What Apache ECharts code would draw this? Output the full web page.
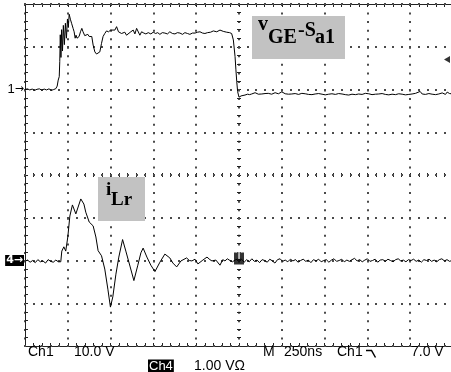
<!DOCTYPE html>
<html><head><meta charset="utf-8">
<script src="https://cdn.jsdelivr.net/npm/echarts@6/dist/echarts.min.js"></script>
<style>html,body{margin:0;padding:0;background:#fff;}#c{width:451px;height:372px;}</style>
</head><body><div id="c"></div>
<script>
// ---- data (time in ns, trigger at 0) ----
const ch1TimeNs = [-1250,-1236,-1222,-1208,-1194,-1180,-1166,-1152,-1138,-1124,-1110,-1096,-1082,-1070,-1062,-1056,-1050,-1047,-1044,-1040,-1036,-1031,-1026,-1020,-1014,-1008,-1002,-997,-992,-984,-978,-973,-969,-963,-957,-952,-946,-934,-926,-918,-911,-901,-891,-883,-875,-867,-860,-852,-842,-832,-823,-813,-803,-794,-784,-774,-762,-750,-739,-725,-715,-704,-686,-677,-667,-657,-647,-632,-618,-608,-598,-589,-579,-569,-556,-544,-530,-515,-501,-487,-475,-462,-448,-433,-418,-404,-389,-374,-360,-345,-330,-316,-301,-287,-272,-257,-242,-228,-213,-199,-184,-166,-150,-130,-111,-92,-72,-55,-43,-33,-23,-18,-13,-8,0,12,23,35,50,62,74,94,113,133,152,171,191,211,230,250,270,289,308,328,348,367,387,406,426,445,465,485,504,524,543,563,582,602,621,641,660,680,699,719,738,758,777,797,816,836,855,875,894,914,933,953,972,992,1011,1031,1058,1070,1089,1109,1128,1148,1167,1187,1206,1216,1230,1250];
const ch1Volt = [0.0,0.15,-0.1,0.1,-0.2,0.05,0.15,-0.15,0.1,-0.1,0.15,-0.2,0.0,0.2,0.8,2.2,3.0,6.5,12.8,7.5,14.0,9.0,15.0,10.5,15.5,12.0,16.5,14.5,17.6,16.3,15.5,15.9,14.3,13.5,12.0,12.7,12.0,12.4,13.5,14.3,13.5,12.6,12.4,12.9,12.4,12.0,12.4,10.4,8.8,8.3,8.2,8.8,10.8,12.4,13.1,13.7,13.5,13.9,13.5,13.9,14.7,13.5,13.1,13.1,13.4,12.7,13.1,13.5,13.9,13.0,14.3,14.7,12.7,13.5,13.2,13.0,13.3,13.0,13.4,13.1,13.3,12.9,13.3,13.2,13.0,13.5,13.1,13.0,13.3,13.2,12.9,13.3,13.1,12.9,13.2,13.2,13.4,13.5,13.2,13.1,13.3,13.4,13.7,13.5,13.9,13.6,13.4,13.3,13.1,11.6,7.7,4.6,1.8,-0.5,-1.8,-1.5,-1.3,-1.3,-1.1,-1.2,-1.05,-0.75,-1.1,-1.05,-0.95,-0.9,-1.1,-0.75,-1.0,-0.55,-1.0,-1.1,-1.05,-0.95,-1.15,-0.9,-1.0,-1.15,-1.2,-1.05,-0.95,-1.1,-1.25,-1.1,-1.0,-1.15,-0.95,-1.05,-1.2,-1.3,-1.1,-1.2,-1.05,-1.15,-0.9,-1.0,-1.2,-1.1,-1.05,-0.95,-1.15,-1.25,-1.1,-1.2,-1.0,-1.1,-1.25,-1.15,-1.05,-0.9,-0.45,-1.05,-1.15,-0.95,-1.1,-1.2,-1.05,-0.8,-1.15,-0.6,-0.95,-1.05];
const ch4TimeNs = [-1250,-1235,-1220,-1205,-1190,-1175,-1160,-1145,-1130,-1115,-1100,-1085,-1070,-1055,-1041,-1035,-1023,-1012,-1000,-988,-973,-953,-924,-906,-895,-875,-852,-836,-823,-803,-784,-766,-751,-737,-719,-702,-680,-661,-637,-614,-591,-573,-560,-538,-515,-491,-462,-433,-404,-386,-364,-339,-306,-290,-275,-257,-240,-211,-187,-170,-158,-135,-111,-95,-82,-68,-53,-38,-23,-10,0,15,30,45,60,75,90,105,120,135,150,165,180,195,210,225,240,255,270,285,300,315,330,345,360,375,390,405,420,435,450,465,480,495,510,525,540,555,570,585,600,615,630,645,660,675,690,705,720,735,750,765,780,795,810,825,840,855,870,885,900,915,930,945,960,975,990,1005,1020,1035,1050,1065,1080,1095,1110,1125,1140,1155,1170,1185,1200,1215,1230,1250];
const ch4Amp = [-0.02,0.01,-0.04,0.0,-0.05,0.02,-0.03,-0.01,-0.06,0.02,-0.02,-0.04,0.01,-0.03,-0.03,0.22,0.32,0.22,0.55,1.04,1.30,1.09,1.44,1.32,1.13,0.90,0.81,0.55,0.23,0.11,-0.20,-0.67,-1.09,-0.85,-0.32,0.08,0.49,0.22,-0.13,-0.47,-0.11,0.18,0.29,0.08,-0.11,-0.26,-0.04,0.15,0.06,-0.06,-0.15,-0.01,0.06,0.0,-0.01,0.03,-0.08,0.01,0.08,0.02,-0.01,0.01,-0.11,0.02,-0.01,0.04,0.0,-0.03,0.01,0.03,-0.01,0.03,-0.04,0.02,-0.03,0.04,-0.02,0.01,-0.05,0.02,0.0,-0.04,0.03,-0.01,-0.06,0.02,0.04,-0.02,0.01,-0.03,0.03,-0.01,0.02,-0.04,0.0,0.03,-0.02,0.01,-0.05,0.02,-0.01,0.03,-0.03,0.0,0.02,-0.04,0.01,0.04,-0.02,0.0,0.03,-0.03,0.01,-0.02,0.02,0.05,-0.01,0.02,-0.03,0.01,0.04,-0.02,0.0,0.03,-0.04,0.01,0.02,-0.02,0.03,0.0,-0.03,0.02,0.04,-0.01,0.01,-0.03,0.02,0.0,0.03,-0.02,0.01,-0.04,0.02,0.0,0.03,-0.02,0.01,-0.03,0.02,0.04,-0.01,0.02,-0.02,0.01];

const timeMinNs = -1250, timeMaxNs = 1250, timePerDivNs = 250;
const divMin = -4, divMax = 4;
const minorPerDiv = 5;
const ch1VoltsPerDiv = 10, ch1Position = 2;
const ch4VoltsPerDiv = 1, ch4Position = -2;
const triggerLevelV = 7.0;

const ch1Data = ch1TimeNs.map((t, i) => [t, ch1Position + ch1Volt[i] / ch1VoltsPerDiv]);
const ch4Data = ch4TimeNs.map((t, i) => [t, ch4Position + ch4Amp[i] / ch4VoltsPerDiv]);

// horizontal graticule lines, one item per division level: [time, div]
const hLines = [];
for (let k = 0; k <= divMax - divMin; k++) hLines.push([0, divMin + k]);

const frameColor = '#222';
const dotColor = '#4a4a4a';
const dotSize = 2;
const minorPx = 342 / ((divMax - divMin) * minorPerDiv); // vertical spacing of graticule dots

function crisp(p) { // same rounding ECharts applies to 1px axis lines (left/top pixel)
  const d = Math.round(p * 2);
  return ((d + 1) % 2 === 0 ? d / 2 : (d - 1) / 2) - 0.5;
}

function renderHLine(params, api) {
  const dv = api.value(1);
  const y = crisp(api.coord([0, dv])[1]);
  const n = (timeMaxNs - timeMinNs) / timePerDivNs * minorPerDiv;
  const children = [];
  for (let k = 0; k <= n; k++) {
    const x = crisp(api.coord([timeMinNs + k * timePerDivNs / minorPerDiv, 0])[0]);
    children.push({ type: 'rect', shape: { x: x, y: y, width: dotSize, height: dotSize }, style: { fill: dotColor } });
  }
  return { type: 'group', children: children };
}

function xAxisDef(position, inside, onZero, len, split) {
  return {
    type: 'value', min: timeMinNs, max: timeMaxNs, interval: timePerDivNs, position: position,
    axisLine: { show: !onZero, onZero: onZero, onZeroAxisIndex: 0, lineStyle: { color: frameColor, width: 1 } },
    axisTick: { show: true, inside: inside, length: len, lineStyle: { color: frameColor } },
    minorTick: { show: true, splitNumber: minorPerDiv, length: len, lineStyle: { color: frameColor } },
    axisLabel: { show: false },
    splitLine: split ? { show: true, lineStyle: { color: dotColor, width: 2, type: [2, minorPx - 2] } } : { show: false },
    minorSplitLine: { show: false }
  };
}
function yAxisDef(position, inside, onZero, len, labels) {
  return {
    type: 'value', min: divMin, max: divMax, interval: 1, position: position,
    axisLine: { show: !onZero, onZero: onZero, onZeroAxisIndex: 0, lineStyle: { color: frameColor, width: 1 } },
    axisTick: { show: true, inside: inside, length: len, lineStyle: { color: frameColor } },
    minorTick: { show: true, splitNumber: minorPerDiv, length: len, lineStyle: { color: frameColor } },
    axisLabel: labels ? {
      show: true, margin: 1,
      formatter: function (v) {
        if (v === ch1Position) return '{n|1}{a|→}';
        if (v === ch4Position) return '{k|4→}';
        return '';
      },
      rich: {
        n: { fontFamily: 'Liberation Sans', fontSize: 13, color: '#000' },
        a: { fontFamily: 'DejaVu Sans', fontSize: 11, color: '#000' },
        k: { fontFamily: 'DejaVu Sans', fontSize: 11, fontWeight: 'bold', color: '#fff', backgroundColor: '#000', padding: [0, 1, 0, 1], lineHeight: 11 }
      }
    } : { show: false },
    splitLine: { show: false }, minorSplitLine: { show: false }
  };
}

const serifB = 'bold 20px "Liberation Serif"';
const sans14 = '14px "Liberation Sans"';
function txt(x, y, text, font, extra) {
  return Object.assign({ type: 'text', x: x, y: y, z: 100,
    style: Object.assign({ text: text, font: font, fill: '#000', align: 'left', verticalAlign: 'middle' }, extra || {}) });
}

const chart = echarts.init(document.getElementById('c'), null, { renderer: 'canvas' });
chart.setOption({
  animation: false,
  backgroundColor: '#fff',
  grid: { left: 25, top: 4, width: 428, height: 342, containLabel: false, outerBoundsMode: 'none' },
  xAxis: [
    xAxisDef('bottom', true, false, 3, true),
    xAxisDef('top', true, false, 3, false),
    xAxisDef('bottom', false, true, 2, false),
    xAxisDef('bottom', true, true, 2, false)
  ],
  yAxis: [
    yAxisDef('left', true, false, 3, true),
    yAxisDef('left', false, true, 2, false),
    yAxisDef('left', true, true, 2, false)
  ],
  series: [
    { type: 'custom', name: 'graticule', data: hLines, xAxisIndex: 0, yAxisIndex: 0, renderItem: renderHLine,
      silent: true, z: 1, clip: false },
    { type: 'line', name: 'Ch1', data: ch1Data, xAxisIndex: 0, yAxisIndex: 0, showSymbol: false, symbol: 'none',
      lineStyle: { color: '#000', width: 1 }, z: 5 },
    { type: 'line', name: 'Ch4', data: ch4Data, xAxisIndex: 0, yAxisIndex: 0, showSymbol: false, symbol: 'none',
      lineStyle: { color: '#000', width: 1 }, z: 5 },
    { type: 'scatter', name: 'trigger', data: [[0, ch4Position]], xAxisIndex: 0, yAxisIndex: 0,
      symbol: 'rect', symbolSize: [10, 12], symbolOffset: [0, -2], itemStyle: { color: '#000' }, z: 6,
      label: { show: true, position: 'inside', formatter: 'T', color: '#fff', fontSize: 10, fontWeight: 'bold', fontFamily: 'Liberation Sans', offset: [0, -2] } },
    { type: 'scatter', name: 'level', data: [[timeMaxNs, ch1Position + triggerLevelV / ch1VoltsPerDiv]], xAxisIndex: 0, yAxisIndex: 0,
      symbol: 'path://M10,0 L0,5 L10,10 Z', symbolSize: [6, 7], symbolOffset: [-6, 0], itemStyle: { color: '#000' }, clip: false, z: 6 }
  ],
  graphic: [
    { type: 'rect', z: 90, shape: { x: 252, y: 16, width: 93, height: 43 }, style: { fill: '#c2c2c2' } },
    txt(258, 25, 'v', serifB),
    txt(268, 38.3, 'GE', serifB),
    txt(298, 30.5, '-S', serifB),
    txt(315, 38.3, 'a1', serifB),
    { type: 'rect', z: 90, shape: { x: 98, y: 177, width: 47, height: 44 }, style: { fill: '#c2c2c2' } },
    txt(106, 189.6, 'i', 'bold 19px "Liberation Serif"'),
    txt(111, 200.3, 'Lr', 'bold 19px "Liberation Serif"'),
    txt(28, 352, 'Ch1', sans14),
    txt(74, 352, '10.0 V', sans14),
    txt(263, 352, 'M', sans14),
    txt(284, 352, '250ns', sans14),
    txt(337, 352, 'Ch1', sans14),
    { type: 'polyline', z: 100, shape: { points: [[366, 350.5], [371.5, 350.5], [375.5, 357.5]] }, style: { stroke: '#000', lineWidth: 1.5, fill: null } },
    txt(411, 352, '7.0 V', sans14),
    txt(148, 366, 'Ch4', '13px "Liberation Sans"', { fill: '#fff', backgroundColor: '#000', padding: [0, 1, 0, 1] }),
    txt(194, 366, '1.00 VΩ', sans14)
  ]
});
</script></body></html>
